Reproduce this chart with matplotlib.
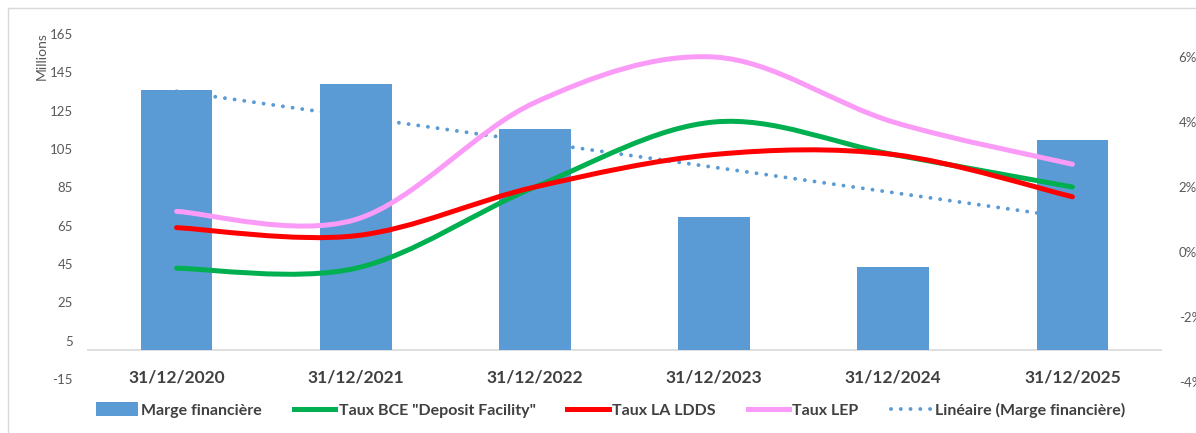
import numpy as np
import matplotlib.pyplot as plt
from matplotlib.path import Path
from matplotlib.patches import PathPatch, Patch
from matplotlib.lines import Line2D

plt.rcParams['font.family'] = ['Lato', 'DejaVu Sans']
plt.rcParams['axes.unicode_minus'] = False

dates = ["31/12/2020", "31/12/2021", "31/12/2022", "31/12/2023", "31/12/2024", "31/12/2025"]
marge = [135.8, 138.8, 115.3, 69.4, 43.4, 109.7]      # millions
taux_bce = [-0.5, -0.5, 2.0, 4.0, 3.0, 2.0]          # %
taux_ldds = [0.75, 0.5, 2.0, 3.0, 3.0, 1.7]          # %
taux_lep = [1.25, 1.0, 4.6, 6.0, 4.0, 2.7]           # %
left_ticks = [-15, 5, 25, 45, 65, 85, 105, 125, 145, 165]
right_ticks = [-4, -2, 0, 2, 4, 6]

BLUE = '#5B9BD5'
GREEN = '#00B050'
RED = '#FF0000'
PINK = '#FA9CF7'
TXT = '#404040'
TICK = '#595959'


def smooth_path(xs, ys):
    # excel-like smoothed line: bezier segments through each point
    pts = np.column_stack([xs, ys]).astype(float)
    n = len(pts)
    verts = [pts[0]]
    codes = [Path.MOVETO]
    for i in range(n - 1):
        p0 = pts[max(i - 1, 0)]
        p1 = pts[i]
        p2 = pts[i + 1]
        p3 = pts[min(i + 2, n - 1)]
        verts += [p1 + (p2 - p0) / 6, p2 - (p3 - p1) / 6, p2]
        codes += [Path.CURVE4] * 3
    return Path(verts, codes)


x = np.arange(len(dates))

fig = plt.figure(figsize=(11.96, 4.33), dpi=100)
ax = fig.add_axes([87 / 1196, 1 - 382 / 433, (1162 - 87) / 1196, (382 - 34) / 433])
ax2 = ax.twinx()

ax.bar(x, marge, width=0.4, color=BLUE, zorder=2)
coef = np.polyfit(x + 1, marge, 1)
trend = np.polyval(coef, x + 1)
ax.plot(x, trend, color=BLUE, lw=2.8, linestyle=(0, (0.01, 2.5)),
        dash_capstyle='round', zorder=3)
ax.axhline(0, color='#D9D9D9', lw=1.2, zorder=1)

for vals, col in [(taux_bce, GREEN), (taux_ldds, RED), (taux_lep, PINK)]:
    ax2.add_patch(PathPatch(smooth_path(x, vals), fill=False, edgecolor=col,
                            lw=3.6, capstyle='round', zorder=4))

ax.set_xlim(-0.5, 5.5)
ax.set_ylim(-16.57, 165)
ax2.set_ylim(-4, 6.708)
ax.set_yticks(left_ticks)
ax2.set_yticks(right_ticks)
ax2.set_yticklabels([f"{t}%" for t in right_ticks])
ax.set_xticks(x)
ax.set_xticklabels(dates, fontsize=12.5, fontweight='bold', color=TXT)

for a in (ax, ax2):
    for s in a.spines.values():
        s.set_visible(False)
ax.tick_params(axis='x', length=0, pad=-9)
ax.tick_params(axis='y', length=0, pad=10, labelsize=9.5, labelcolor=TICK)
ax2.tick_params(axis='y', length=0, pad=12, labelsize=9.5, labelcolor=TICK)

fig.text(42 / 1196, 1 - 56 / 433, "Millions", rotation=90, ha='center', va='center',
         fontsize=10, color=TICK)

handles = [
    Patch(facecolor=BLUE),
    Line2D([], [], color=GREEN, lw=3.6),
    Line2D([], [], color=RED, lw=3.6),
    Line2D([], [], color=PINK, lw=3.6),
    Line2D([], [], color=BLUE, lw=2.8, linestyle=(0, (0.01, 2.5)), dash_capstyle='round'),
]
labels = ["Marge financière", 'Taux BCE "Deposit Facility"', "Taux LA LDDS", "Taux LEP",
          "Linéaire (Marge financière)"]
leg = fig.legend(handles, labels, loc='center', bbox_to_anchor=(611 / 1196, 1 - 410 / 433),
                 ncol=5, frameon=False, handlelength=2.6, handleheight=0.9,
                 handletextpad=0.2, columnspacing=2.0,
                 prop={'weight': 'bold', 'size': 11.5})
for t in leg.get_texts():
    t.set_color(TXT)

# chart border
fig.add_artist(Line2D([8 / 1196, 8 / 1196], [0, 1 - 8 / 433], color='#D9D9D9', lw=1))
fig.add_artist(Line2D([8 / 1196, 1], [1 - 8 / 433, 1 - 8 / 433], color='#D9D9D9', lw=1))

fig.savefig("out.png", dpi=100)
